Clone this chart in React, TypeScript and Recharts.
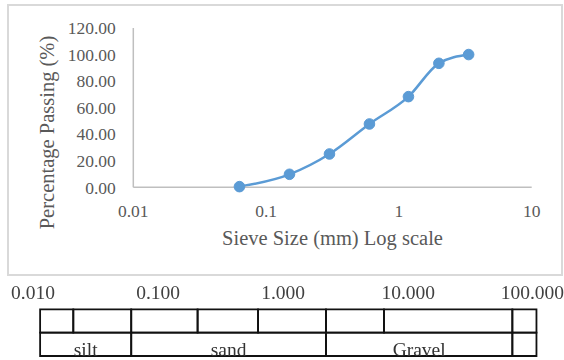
import React from 'react';
import { LineChart, Line, XAxis, YAxis, ComposedChart, ReferenceArea } from 'recharts';

// grading curve
const sieveSize = [0.063, 0.15, 0.3, 0.6, 1.18, 2.0, 3.35];
const percentPassing = [0.5, 9.8, 25.1, 47.7, 68.3, 93.4, 100];
const xTicks = [0.01, 0.1, 1, 10];
const yTicks = [0, 20, 40, 60, 80, 100, 120];

// soil classification strip
const stripTicks = [0.01, 0.1, 1, 10, 100];
const subBounds = [0.0114, 0.021, 0.061, 0.207, 0.63, 2.2, 6.4, 68, 106];
const soilBounds = [0.0114, 0.061, 2.2, 68, 106];
const soilNames = ['silt', 'sand', 'Gravel', ''];

const FONT = '"Liberation Serif", "Times New Roman", serif';
const GREY = '#595959';
const BLUE = '#5b9bd5';

const curve = sieveSize.map((size, i) => ({ size, passing: percentPassing[i] }));
const strip = subBounds.map((size) => ({ size, row: 1 }));

const yTitle = (props: any) => {
  const vb = props.viewBox || { x: 0, y: 0 };
  const x = vb.x + 53.5;
  const y = 132.5;
  return (
    <text
      x={x}
      y={y}
      transform={`rotate(-90 ${x} ${y})`}
      textAnchor="middle"
      fill={GREY}
      fontSize={20.5}
      fontFamily={FONT}
    >
      Percentage Passing (%)
    </text>
  );
};

export default function App() {
  return (
    <div style={{ position: 'absolute', left: 0, top: 0, width: 564, height: 360, background: '#fff' }}>
      <div
        style={{
          position: 'absolute',
          left: 7,
          top: 4,
          width: 556,
          height: 272,
          border: '2px solid #d9d9d9',
          boxSizing: 'border-box',
        }}
      />
      <div style={{ position: 'absolute', left: 0, top: 0 }}>
        <LineChart width={564} height={280} data={curve} margin={{ top: 28, right: 32.3, bottom: 30.7, left: 0 }}>
          <XAxis
            dataKey="size"
            type="number"
            scale="log"
            domain={[0.01, 10]}
            ticks={xTicks}
            tickFormatter={(v: number) => String(v)}
            allowDataOverflow
            height={62}
            tickLine={false}
            tickSize={0}
            tickMargin={17}
            axisLine={{ stroke: '#bfbfbf', strokeWidth: 1.5 }}
            tick={{ fill: GREY, fontSize: 17.5, fontFamily: FONT }}
            label={{
              value: 'Sieve Size (mm) Log scale',
              position: 'insideBottom',
              offset: 4.3,
              fill: GREY,
              fontSize: 20.5,
              fontFamily: FONT,
            }}
          />
          <YAxis
            type="number"
            domain={[0, 120]}
            ticks={yTicks}
            tickFormatter={(v: number) => v.toFixed(2)}
            width={133.3}
            tickLine={false}
            tickSize={0}
            tickMargin={17.5}
            axisLine={{ stroke: '#bfbfbf', strokeWidth: 1.5 }}
            tick={{ fill: GREY, fontSize: 17.5, fontFamily: FONT }}
            label={yTitle}
          />
          <Line
            type="monotone"
            dataKey="passing"
            stroke={BLUE}
            strokeWidth={2.5}
            dot={{ r: 5.3, fill: BLUE, stroke: BLUE, strokeWidth: 1 }}
            activeDot={false}
            isAnimationActive={false}
          />
        </LineChart>
      </div>
      <div style={{ position: 'absolute', left: 0, top: 280, filter: 'blur(0.45px)' }}>
        <ComposedChart width={564} height={80} data={strip} margin={{ top: 9.3, right: 30.7, bottom: 4, left: 33 }}>
          <XAxis
            dataKey="size"
            type="number"
            scale="log"
            domain={[0.01, 100]}
            ticks={stripTicks}
            tickFormatter={(v: number) => v.toFixed(3)}
            orientation="top"
            height={20}
            axisLine={false}
            tickLine={false}
            tickSize={0}
            tickMargin={10}
            tick={{ fill: '#404040', fontSize: 19.5, fontFamily: FONT }}
            allowDataOverflow
          />
          <YAxis dataKey="row" type="number" domain={[0, 2]} hide />
          {subBounds.slice(0, -1).map((b, i) => (
            <ReferenceArea
              key={`sub-${i}`}
              x1={b}
              x2={subBounds[i + 1]}
              y1={1}
              y2={2}
              ifOverflow="visible"
              fill="none"
              stroke="#111"
              strokeWidth={1.8}
            />
          ))}
          {soilBounds.slice(0, -1).map((b, i) => (
            <ReferenceArea
              key={`soil-${i}`}
              x1={b}
              x2={soilBounds[i + 1]}
              y1={0}
              y2={1}
              ifOverflow="visible"
              fill="none"
              stroke="#111"
              strokeWidth={1.8}
              label={{
                value: soilNames[i],
                position: 'insideBottom',
                offset: 0,
                fill: '#333',
                fontSize: 19.5,
                fontFamily: FONT,
              }}
            />
          ))}
        </ComposedChart>
      </div>
    </div>
  );
}
